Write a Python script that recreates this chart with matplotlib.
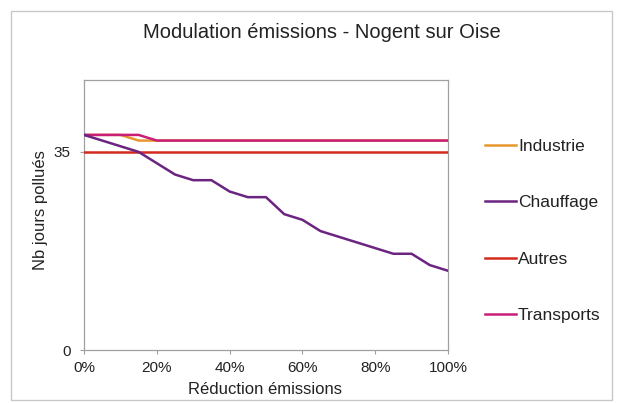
import matplotlib
matplotlib.use("Agg")
import matplotlib.pyplot as plt
from matplotlib.patches import Rectangle
from matplotlib.lines import Line2D
from matplotlib.ticker import FuncFormatter

plt.rcParams['font.family'] = ['Liberation Sans', 'DejaVu Sans']

reduction = [0, 5, 10, 15, 20, 25, 30, 35, 40, 45, 50, 55, 60, 65, 70, 75, 80, 85, 90, 95, 100]
industrie = [38, 38, 38, 37, 37, 37, 37, 37, 37, 37, 37, 37, 37, 37, 37, 37, 37, 37, 37, 37, 37]
chauffage = [38, 37, 36, 35, 33, 31, 30, 30, 28, 27, 27, 24, 23, 21, 20, 19, 18, 17, 17, 15, 14]
autres = [35] * 21
transports = [38, 38, 38, 38, 37, 37, 37, 37, 37, 37, 37, 37, 37, 37, 37, 37, 37, 37, 37, 37, 37]

series_names = ["Industrie", "Chauffage", "Autres", "Transports"]
series_colors = ["#e8962e", "#6b2480", "#d42a1e", "#c81e78"]

fig = plt.figure(figsize=(6.2, 4.03), dpi=100)
fig.patch.set_facecolor("white")
fig.patches.append(Rectangle((11/620, 3/403), (612-11)/620, (392-3)/403,
                             transform=fig.transFigure, fill=False,
                             edgecolor="#c8c8c8", linewidth=1.0))

ax = fig.add_axes([84/620, 53/403, (448-84)/620, (350-80)/403])
data = [industrie, chauffage, autres, transports]
z = {0: 2, 2: 3, 3: 4, 1: 5}
for i in [1, 0, 2, 3]:
    ax.plot(reduction, data[i], color=series_colors[i], linewidth=1.8,
            zorder=z[i], solid_joinstyle='round')

ax.set_xlim(0, 100)
ax.set_ylim(0, 47.7)
ax.set_xticks([0, 20, 40, 60, 80, 100])
ax.xaxis.set_major_formatter(FuncFormatter(lambda v, p: f"{int(v)}%"))
ax.set_yticks([0, 35])
for s in ax.spines.values():
    s.set_color("#a0a0a0")
    s.set_linewidth(0.9)
ax.tick_params(axis='both', colors="#a0a0a0", labelcolor="#222222",
               labelsize=11, length=3, width=0.8, direction='out')
ax.tick_params(axis='x', pad=5)
ax.tick_params(axis='y', pad=6.5)
ax.set_xlabel("Réduction émissions", fontsize=12, color="#222222")
ax.set_ylabel("Nb jours pollués", fontsize=12, color="#222222")
ax.xaxis.set_label_coords((265 - 84) / 364, -(390 - 350) / 270)
ax.yaxis.set_label_coords(-(84 - 40) / 364, (350 - 210) / 270)
ax.xaxis.label.set_va('center')
ax.yaxis.label.set_va('center')

fig.text(322/620, 1 - 33/403, "Modulation émissions - Nogent sur Oise",
         ha='center', va='center', fontsize=14.5, color="#222222")

handles = [Line2D([0], [0], color=c, linewidth=1.8) for c in series_colors]
leg = fig.legend(handles, series_names, loc='upper left',
                 bbox_to_anchor=(485/620, 1 - 139/403),
                 frameon=False, fontsize=12.5, handlelength=1.8,
                 handletextpad=0.1, labelspacing=2.37,
                 borderaxespad=0, borderpad=0)
for t in leg.get_texts():
    t.set_color("#222222")

fig.savefig("out.png", dpi=100)
